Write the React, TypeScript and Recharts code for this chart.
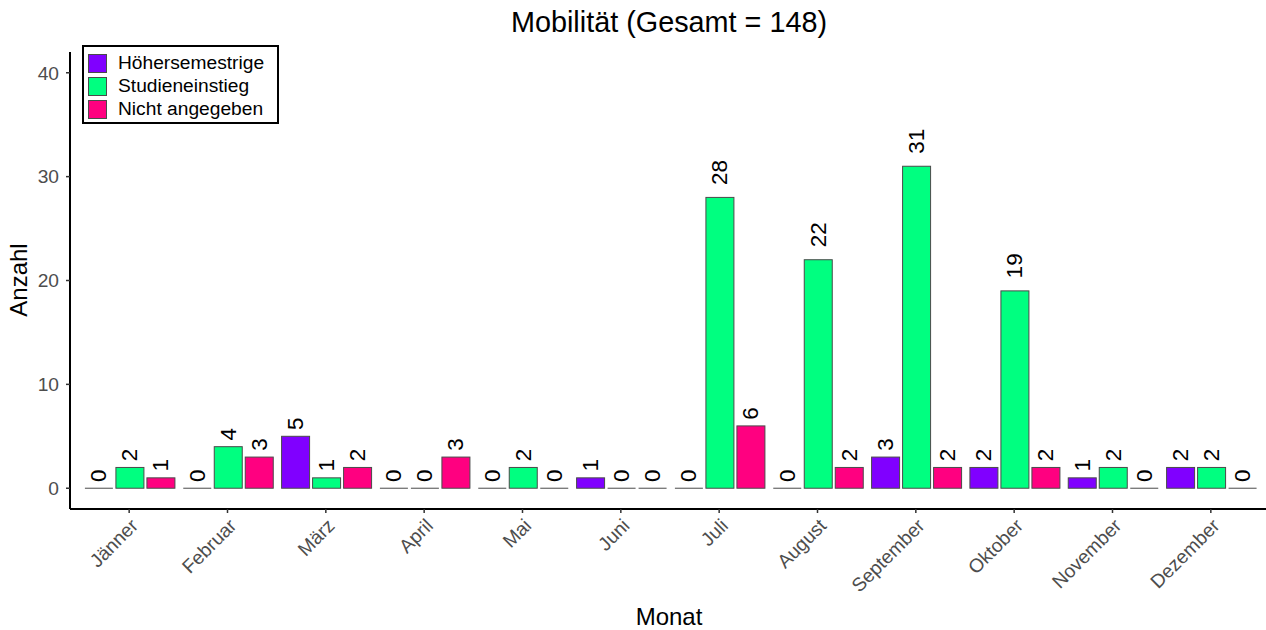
import React from 'react';
import { BarChart, Bar, XAxis, YAxis, LabelList, Label } from 'recharts';

const months = ['Jänner', 'Februar', 'März', 'April', 'Mai', 'Juni', 'Juli', 'August', 'September', 'Oktober', 'November', 'Dezember'];
const hoehersemestrige = [0, 0, 5, 0, 0, 1, 0, 0, 3, 2, 1, 2];
const studieneinstieg = [2, 4, 1, 0, 2, 0, 28, 22, 31, 19, 2, 2];
const nichtAngegeben = [1, 3, 2, 3, 0, 0, 6, 2, 2, 2, 0, 0];
const yTicks = [0, 10, 20, 30, 40];

const seriesNames = ['Höhersemestrige', 'Studieneinstieg', 'Nicht angegeben'];
const seriesKeys = ['h', 's', 'n'];
const seriesColors = ['#8000FF', '#00FF80', '#FF0080'];

const data = months.map((m, i) => ({
  month: m,
  h: hoehersemestrige[i],
  s: studieneinstieg[i],
  n: nichtAngegeben[i],
}));

const FONT = '"Liberation Sans", Arial, Helvetica, sans-serif';
const LABEL_FS = 22.5;
const BORDER = '#4a4a4a';

const BarShape = (props: any) => {
  const { x, y, width, height, fill } = props;
  if (!height || Math.abs(height) < 0.5) {
    return <line x1={x} x2={x + width} y1={y} y2={y} stroke={BORDER} strokeWidth={1} />;
  }
  return <rect x={x} y={y} width={width} height={height} fill={fill} stroke={BORDER} strokeWidth={1} />;
};

const renderLabel = (p: any) => {
  const { x, y, width, value } = p;
  const cx = Number(x) + Number(width) / 2;
  const tw = String(value).length * 0.556 * LABEL_FS;
  const ty = Number(y) - 0.5 * tw;
  return (
    <text
      x={cx}
      y={ty}
      transform={`rotate(-90 ${cx} ${ty})`}
      textAnchor="start"
      dominantBaseline="central"
      fontSize={LABEL_FS}
      fontFamily={FONT}
      fill="#000"
    >
      {value}
    </text>
  );
};

const XTick = (props: any) => {
  const { x, y, payload } = props;
  const px = x + 10;
  const py = y + 12;
  return (
    <text
      x={px}
      y={py}
      transform={`rotate(-45 ${px} ${py})`}
      textAnchor="end"
      fontSize={19.2}
      fontFamily={FONT}
      fill="#4d4d4d"
    >
      {payload.value}
    </text>
  );
};

export default function App() {
  return (
    <div style={{ position: 'relative', width: 1266, height: 630, fontFamily: FONT, background: '#fff' }}>
      <style>{`body{margin:0;}`}</style>
      <BarChart
        width={1266}
        height={630}
        data={data}
        margin={{ top: 52, right: 0, left: 0, bottom: 0 }}
        barCategoryGap="5%"
        barGap={3}
      >
        <XAxis
          dataKey="month"
          height={121}
          padding={{ left: 10, right: 6 }}
          tick={<XTick />}
          tickSize={4}
          tickMargin={2}
          interval={0}
          axisLine={{ stroke: '#000', strokeWidth: 2 }}
          tickLine={{ stroke: '#333', strokeWidth: 1.5 }}
        >
          <Label
            content={() => (
              <text x={669} y={625} textAnchor="middle" fontSize={24} fontFamily={FONT} fill="#000">
                Monat
              </text>
            )}
          />
        </XAxis>
        <YAxis
          type="number"
          domain={[-2, 42]}
          ticks={yTicks}
          width={70}
          tickSize={4}
          tickMargin={7}
          axisLine={{ stroke: '#000', strokeWidth: 2 }}
          tickLine={{ stroke: '#333', strokeWidth: 1.5 }}
          tick={{ fill: '#4d4d4d', fontSize: 19.2, fontFamily: FONT }}
        >
          <Label
            content={() => (
              <text
                x={18}
                y={280}
                transform="rotate(-90 18 280)"
                textAnchor="middle"
                dominantBaseline="central"
                fontSize={24}
                fontFamily={FONT}
                fill="#000"
              >
                Anzahl
              </text>
            )}
          />
        </YAxis>
        {seriesKeys.map((k, i) => (
          <Bar key={k} dataKey={k} name={seriesNames[i]} fill={seriesColors[i]} shape={<BarShape />} isAnimationActive={false}>
            <LabelList dataKey={k} content={renderLabel} />
          </Bar>
        ))}
      </BarChart>
      <div
        style={{
          position: 'absolute',
          left: 0,
          width: 1338,
          top: 8,
          textAlign: 'center',
          fontSize: 28.8,
          lineHeight: '29px',
          color: '#000',
          whiteSpace: 'nowrap',
        }}
      >
        Mobilität (Gesamt = 148)
      </div>
      <div
        style={{
          position: 'absolute',
          left: 82,
          top: 45,
          width: 197,
          height: 79,
          boxSizing: 'border-box',
          border: '2px solid #000',
          background: '#fff',
        }}
      >
        {seriesNames.map((n, i) => (
          <div
            key={n}
            style={{
              position: 'absolute',
              left: 4,
              top: 6 + i * 23,
              height: 20,
              display: 'flex',
              alignItems: 'center',
            }}
          >
            <div
              style={{
                width: 19,
                height: 19,
                boxSizing: 'border-box',
                background: seriesColors[i],
                border: `1px solid ${BORDER}`,
                flexShrink: 0,
              }}
            />
            <span style={{ marginLeft: 11, fontSize: 19.2, lineHeight: '20px', color: '#000', whiteSpace: 'nowrap' }}>{n}</span>
          </div>
        ))}
      </div>
    </div>
  );
}
